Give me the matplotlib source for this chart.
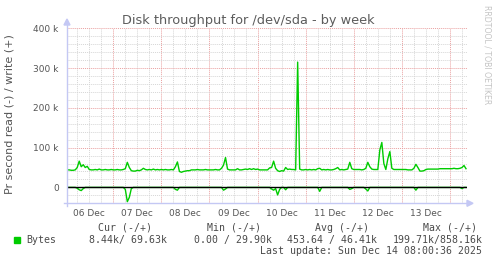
import numpy as np
import matplotlib
matplotlib.use("Agg")
import matplotlib.pyplot as plt
from matplotlib.patches import Polygon
from matplotlib.lines import Line2D

W, H = 497, 264

# hourly samples, hour 1 = Dec 6 01:00
hours = np.arange(1, 201)

# write bytes/s (k)
write_k = [
    44, 44, 43, 43, 44, 50, 66, 52, 57, 50, 53, 45, 44, 44, 45, 44, 46, 44, 44, 45, 44, 44, 45, 44,
    44, 45, 44, 44, 45, 47, 63, 50, 42, 41, 41, 43, 42, 44, 48, 45, 44, 45, 44, 46, 44, 45, 44, 45,
    44, 45, 44, 44, 45, 44, 52, 64, 40, 38, 40, 41, 42, 42, 44, 44, 44, 45, 44, 44, 44, 45, 44, 44,
    44, 44, 45, 44, 44, 48, 56, 75, 46, 44, 44, 44, 44, 47, 44, 44, 45, 46, 45, 47, 45, 47, 45, 46,
    44, 44, 44, 44, 44, 49, 50, 66, 48, 42, 40, 42, 41, 50, 45, 46, 45, 45, 44, 315, 46, 44, 44, 45,
    44, 45, 44, 45, 44, 47, 48, 44, 45, 44, 45, 44, 44, 45, 47, 50, 44, 45, 44, 45, 46, 63, 47, 45,
    45, 45, 45, 44, 45, 48, 63, 52, 46, 45, 45, 45, 94, 113, 60, 45, 72, 90, 48, 45, 45, 45, 45, 45,
    45, 45, 44, 44, 44, 48, 58, 50, 41, 41, 42, 45, 46, 46, 46, 46, 46, 46, 47, 47, 47, 47, 47, 47,
    47, 48, 47, 47, 48, 50, 55, 47,
]

# read bytes/s (k), drawn below zero
read_k = [
    0, 0, 0, 0, 0, -2, -6, -8, -3, 0, 0, 0, 0, 0, 0, 0, 0, 0, 0, 0, 0, 0, 0, 0,
    0, 0, 0, 0, 0, -5, -36, -25, -3, 0, 0, 0, 0, 0, 0, 0, 0, 0, 0, 0, 0, 0, 0, 0,
    0, 0, 0, 0, 0, 0, -5, -7, 0, 0, 0, 0, 0, 0, 0, 0, 0, 0, 0, 0, 0, 0, 0, 0,
    0, 0, 0, 0, 0, 0, -7, -4, 0, 0, 0, 0, 0, 0, 0, 0, 0, 0, 0, 0, 0, 0, 0, 0,
    0, 0, 0, 0, 0, 0, -4, -7, -3, -19, -5, 0, 0, -6, 0, 0, 0, 0, 0, 0, 0, 0, 0, 0,
    0, 0, 0, 0, 0, 0, -10, 0, 0, 0, 0, 0, 0, 0, 0, 0, 0, 0, 0, 0, 0, -5, -3, 0,
    0, 0, 0, 0, 0, -4, -9, 0, 0, 0, 0, 0, 0, 0, 0, 0, 0, 0, 0, 0, 0, 0, 0, 0,
    0, 0, 0, 0, 0, 0, -7, 0, 0, 0, 0, 0, 0, 0, 0, 0, 0, 0, 0, 0, 0, 0, 0, 0,
    0, 0, 0, 0, 0, -3, 0, 0,
]

day_labels = ["06 Dec", "07 Dec", "08 Dec", "09 Dec", "10 Dec", "11 Dec", "12 Dec", "13 Dec"]
y_ticks = [0, 100e3, 200e3, 300e3, 400e3]
y_tick_labels = ["0", "100 k", "200 k", "300 k", "400 k"]

legend_heads = ["Cur (-/+)", "Min (-/+)", "Avg (-/+)", "Max (-/+)"]
legend_vals = ["8.44k/ 69.63k", "0.00 / 29.90k", "453.64 / 46.41k", "199.71k/858.16k"]

GREEN = "#00cc00"
AXIS = "#c4c8f4"
TXT = "#555555"


def fx(px):
    return px / W


def fy(py):
    return 1 - py / H


fig = plt.figure(figsize=(W / 100, H / 100), dpi=100)
ax = fig.add_axes([fx(67), fy(203.3), 400 / W, 175 / H])
ax.set_xlim(0.9, 200.5)
ax.set_ylim(-40e3, 400e3)
for s in ax.spines.values():
    s.set_visible(False)

# grid
dot = (0, (1, 1))
for h in range(6, 201, 6):
    major = h % 24 == 0
    ax.axvline(h, color="#eaa0a0" if major else "#d6d6d6", lw=0.7, ls=dot, zorder=1)
for v in range(-20000, 400001, 20000):
    if v == 0:
        continue
    major = v % 100000 == 0
    ax.axhline(v, color="#eaa0a0" if major else "#d6d6d6", lw=0.7, ls=dot, zorder=1)

ax.plot(hours, np.array(write_k) * 1000, color=GREEN, lw=1.0, zorder=3)
ax.plot(hours, np.array(read_k) * 1000, color=GREEN, lw=1.0, zorder=3)
ax.axhline(0, color="black", lw=1.0, zorder=4)

ax.set_yticks(y_ticks)
ax.set_yticklabels(y_tick_labels)
ax.set_xticks([12 + 24 * i for i in range(len(day_labels))])
ax.set_xticklabels(day_labels)
ax.tick_params(axis="both", length=0, labelsize=6.5, colors=TXT)
ax.tick_params(axis="y", pad=6)
ax.tick_params(axis="x", pad=4)

# axis lines with arrows
fig.add_artist(Line2D([fx(67), fx(67)], [fy(206), fy(24)], color=AXIS, lw=1))
fig.add_artist(Line2D([fx(64), fx(468)], [fy(203.3), fy(203.3)], color=AXIS, lw=1))
fig.add_artist(Polygon([[fx(64), fy(25)], [fx(70), fy(25)], [fx(67), fy(19)]],
                       closed=True, color=AXIS, transform=fig.transFigure))
fig.add_artist(Polygon([[fx(467), fy(200.3)], [fx(467), fy(206.3)], [fx(473), fy(203.3)]],
                       closed=True, color=AXIS, transform=fig.transFigure))

# texts
fig.text(fx(248), fy(24), "Disk throughput for /dev/sda - by week", ha="center",
         va="baseline", fontsize=9.3, color="#5c5c5c")
fig.text(fx(10), fy(114), "Pr second read (-) / write (+)", rotation=90, ha="center",
         va="center", fontsize=8.0, color=TXT)
fig.text(fx(487), fy(5), "RRDTOOL / TOBI OETIKER", rotation=270, ha="center", va="top",
         fontsize=5.6, color="#c4c4c4")

mono = dict(family="DejaVu Sans Mono", fontsize=7.1, color="#4a4a4a", va="center")
for x, t in zip([98, 207, 315, 423], legend_heads):
    fig.text(fx(x), fy(228), t, ha="left", **mono)
fig.add_artist(Polygon([[fx(13.5), fy(236.5)], [fx(19.5), fy(236.5)], [fx(19.5), fy(242.5)],
                        [fx(13.5), fy(242.5)]], closed=True, color=GREEN,
                       transform=fig.transFigure))
fig.text(fx(26), fy(240), "Bytes", ha="left", **mono)
for x, t in zip([89, 194, 287, 393], legend_vals):
    fig.text(fx(x), fy(240), t, ha="left", **mono)
fig.text(fx(482), fy(251), "Last update: Sun Dec 14 08:00:36 2025", ha="right", **mono)

fig.savefig("out.png", dpi=100, facecolor="white")
